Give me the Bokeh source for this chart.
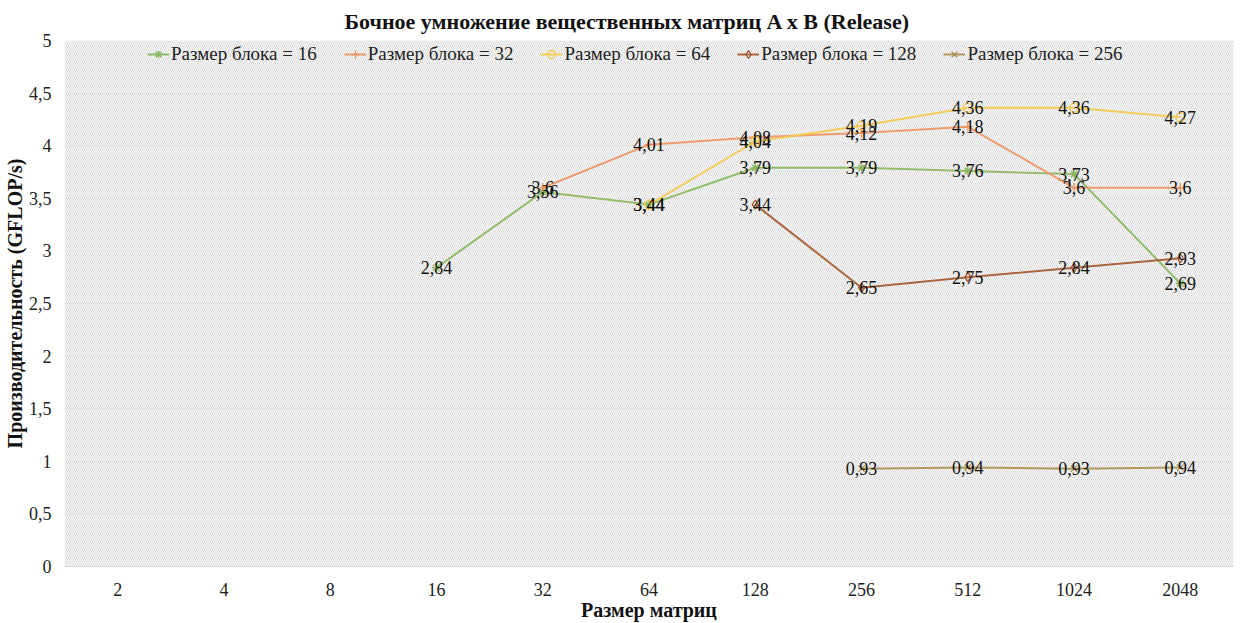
from bokeh.plotting import figure
from bokeh.models import (ColumnDataSource, Legend, LegendItem, BoxAnnotation,
                          FixedTicker, CustomJSTickFormatter)
from bokeh.core.properties import value
from bokeh.embed import file_html
from bokeh.resources import INLINE

sizes = ["2", "4", "8", "16", "32", "64", "128", "256", "512", "1024", "2048"]

b16_x = ["16", "32", "64", "128", "256", "512", "1024", "2048"]
b16_y = [2.84, 3.56, 3.44, 3.79, 3.79, 3.76, 3.73, 2.69]

b32_x = ["32", "64", "128", "256", "512", "1024", "2048"]
b32_y = [3.6, 4.01, 4.08, 4.12, 4.18, 3.6, 3.6]

b64_x = ["64", "128", "256", "512", "1024", "2048"]
b64_y = [3.44, 4.04, 4.19, 4.36, 4.36, 4.27]

b128_x = ["128", "256", "512", "1024", "2048"]
b128_y = [3.44, 2.65, 2.75, 2.84, 2.93]

b256_x = ["256", "512", "1024", "2048"]
b256_y = [0.93, 0.94, 0.93, 0.94]

y_ticks = [0, 0.5, 1, 1.5, 2, 2.5, 3, 3.5, 4, 4.5, 5]

series = [
    ("Размер блока = 16", b16_x, b16_y, "#8ab65e", "asterisk"),
    ("Размер блока = 32", b32_x, b32_y, "#ec9462", "cross"),
    ("Размер блока = 64", b64_x, b64_y, "#f5c94c", "circle"),
    ("Размер блока = 128", b128_x, b128_y, "#a4582f", "diamond"),
    ("Размер блока = 256", b256_x, b256_y, "#a89050", "x"),
]

SERIF = "Liberation Serif"

p = figure(width=1243, height=623, x_range=sizes, y_range=(0, 5),
           output_backend="svg", toolbar_location=None,
           min_border_left=60, min_border_right=10,
           min_border_top=40, min_border_bottom=50)

p.background_fill_color = "#fafafa"
p.border_fill_color = "white"
p.outline_line_color = None

p.add_layout(BoxAnnotation(fill_alpha=0, line_color=None,
                           hatch_pattern="left_diagonal_line",
                           hatch_color="#d2d2d2", hatch_scale=4,
                           hatch_weight=0.8, level="underlay"))

p.title.text = "Бочное умножение вещественных матриц A x B (Release)"
p.title.align = "left"
p.title.offset = 280
p.title.text_font = SERIF
p.title.text_font_style = "bold"
p.title.text_font_size = "22px"
p.title.text_color = "#111111"
p.title.standoff = 13

p.xgrid.grid_line_color = None
p.ygrid.grid_line_color = "#ececec"
p.yaxis.ticker = FixedTicker(ticks=y_ticks)
p.yaxis.formatter = CustomJSTickFormatter(code="return tick.toString().replace('.', ',');")

for ax in (p.xaxis[0], p.yaxis[0]):
    ax.major_tick_line_color = None
    ax.minor_tick_line_color = None
    ax.major_label_text_font = SERIF
    ax.major_label_text_font_size = "18px"
    ax.major_label_text_color = "#222222"
    ax.axis_label_text_font = SERIF
    ax.axis_label_text_font_style = "bold"
    ax.axis_label_text_font_size = "20px"
    ax.axis_label_text_color = "#111111"

p.yaxis.axis_line_color = None
p.xaxis.axis_line_color = "#d9d9d9"
p.xaxis.axis_label = "Размер матриц"
p.yaxis.axis_label = "Производительность (GFLOP/s)"
p.xaxis.major_label_standoff = 10
p.xaxis.axis_label_standoff = 0
p.yaxis.major_label_standoff = 7
p.yaxis.axis_label_standoff = 0

items = []
for name, xs, ys, color, marker in series:
    src = ColumnDataSource(dict(x=xs, y=ys, lab=[str(v).replace(".", ",") for v in ys]))
    ln = p.line("x", "y", source=src, line_color=color, line_width=2, line_alpha=0.9)
    sc = p.scatter("x", "y", source=src, marker=marker, size=9,
                   line_color=color, fill_color="white", fill_alpha=0.0,
                   line_width=1.3)
    p.text("x", "y", text="lab", source=src, text_align="center",
           text_baseline="middle", text_font=value(SERIF),
           text_font_size="18px", text_color="#111111")
    items.append(LegendItem(label=name, renderers=[ln, sc]))

legend = Legend(items=items, orientation="horizontal", location=(83, 501),
                label_text_font=SERIF, label_text_font_size="19px",
                label_text_color="#222222", glyph_width=22, label_standoff=2,
                label_height=20, glyph_height=20,
                spacing=27, background_fill_alpha=0, border_line_color=None,
                margin=0, padding=0)
p.add_layout(legend)

open("out.html", "w").write(file_html(p, INLINE))
